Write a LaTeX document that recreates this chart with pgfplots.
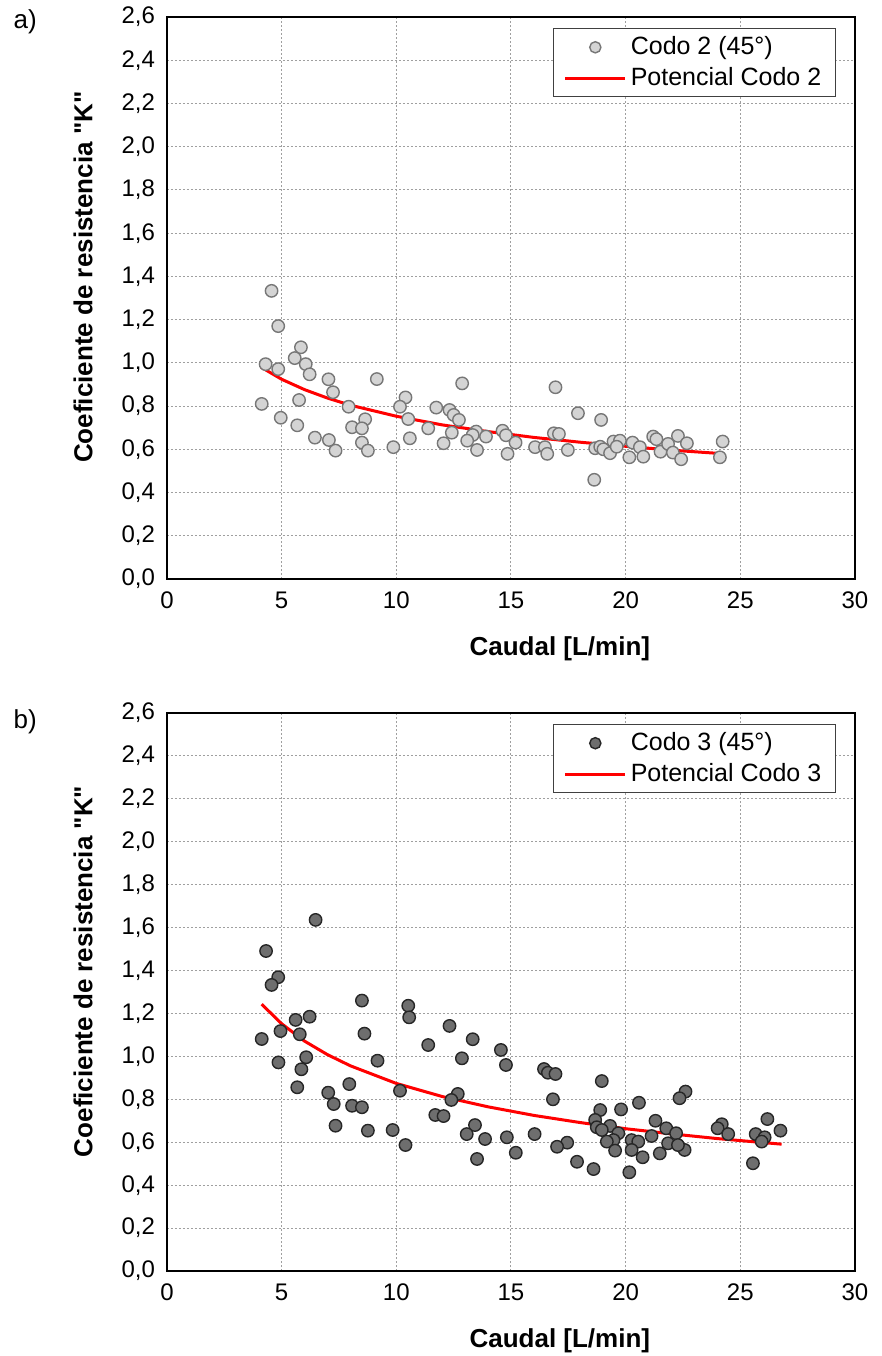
\documentclass[border=0pt]{standalone}
\usepackage{fontspec}
\setmainfont{Liberation Sans}[Ligatures=TeXOff]
\usepackage{pgfplots}
\pgfplotsset{compat=1.18}
\definecolor{fillA}{HTML}{D4D4D4}
\definecolor{edgeA}{HTML}{777777}
\definecolor{fillB}{HTML}{6E6E6E}
\definecolor{edgeB}{HTML}{262626}
\pgfplotsset{
  scatleg/.style={legend image code/.code={\draw[mark repeat=2,mark phase=2,##1,mark size=2.8pt] plot coordinates {(0pt,0pt) (15pt,0pt) (30pt,0pt)};}},
  lineleg/.style={legend image code/.code={\draw[##1] (0pt,0pt) -- (30pt,0pt);}},
  kplot/.style={
    scale only axis, width=344pt, clip=false,
    xmin=0, xmax=30, ymin=0, ymax=2.6,
    xtick={0,5,10,15,20,25,30},
    ytick={0,0.2,0.4,0.6,0.8,1.0,1.2,1.4,1.6,1.8,2.0,2.2,2.4,2.6},
    grid=major,
    major grid style={gray!75, dash pattern=on 1pt off 1pt, line width=0.5pt},
    axis line style={black, line width=1.1pt},
    major tick length=0pt,
    /pgf/number format/assume math mode=true,
    ticklabel style={font=\fontsize{12}{14}\selectfont},
    yticklabel style={/pgf/number format/fixed, /pgf/number format/fixed zerofill,
      /pgf/number format/precision=1, /pgf/number format/use comma, xshift=-2.5pt},
    xticklabel style={yshift=-3pt},
    xlabel={Caudal [L/min]},
    ylabel={Coeficiente de resistencia "K"},
    label style={font=\bfseries\fontsize{13}{15}\selectfont},
    xlabel style={at={(axis description cs:0.571,-0.125)}, anchor=center},
    ylabel style={at={(axis description cs:-0.122,0.537)}, anchor=center},
    legend style={at={(axis description cs:0.972,0.980)}, anchor=north east,
      draw=black!75, line width=0.5pt, fill=white,
      font=\fontsize{12.5}{15}\selectfont, row sep=1pt,
      inner xsep=5pt, inner ysep=2pt},
    legend cell align=left,
  }
}
\begin{document}
\begin{tikzpicture}
\useasboundingbox (-83.5pt,-388.5pt) rectangle (357.5pt,289.5pt);
\begin{axis}[kplot, height=281pt, at={(0pt,0pt)}, anchor=south west]
\addplot[only marks, mark=*, mark size=3.1pt,
  mark options={fill=fillA, draw=edgeA, line width=0.7pt}, scatleg]
table {
4.56 1.333
4.85 1.170
5.84 1.072
5.57 1.022
6.05 0.994
4.30 0.994
4.85 0.971
6.22 0.947
7.04 0.924
9.15 0.925
7.24 0.864
4.13 0.810
5.76 0.828
7.92 0.797
10.40 0.840
10.16 0.797
4.96 0.746
8.64 0.739
10.52 0.740
5.68 0.711
8.07 0.702
8.50 0.697
11.74 0.793
12.32 0.782
12.50 0.759
12.73 0.736
12.87 0.905
11.39 0.697
12.42 0.677
13.48 0.682
13.33 0.666
13.91 0.659
14.63 0.686
14.78 0.665
6.45 0.654
7.06 0.643
7.35 0.594
8.50 0.631
8.76 0.594
9.87 0.610
10.59 0.651
12.06 0.628
13.09 0.640
13.52 0.597
14.85 0.579
15.20 0.631
16.05 0.610
16.48 0.610
16.58 0.579
16.94 0.887
16.87 0.674
17.09 0.671
17.48 0.597
17.92 0.767
18.93 0.736
18.63 0.459
18.67 0.605
18.89 0.612
19.03 0.600
19.32 0.582
19.47 0.636
19.75 0.640
19.61 0.612
20.16 0.563
20.30 0.631
20.62 0.610
20.77 0.566
21.20 0.659
21.34 0.647
21.52 0.589
21.85 0.625
22.06 0.585
22.28 0.662
22.67 0.628
22.42 0.554
24.23 0.636
24.11 0.563
};
\addlegendentry{Codo 2 (45°)}
\addplot[red, line width=1.5pt, lineleg]
table {
4.10 0.980
5 0.924
6 0.876
7 0.837
8 0.804
10 0.753
12 0.713
14 0.682
16 0.655
18 0.633
20 0.614
22 0.596
24.20 0.580
};
\addlegendentry{Potencial Codo 2}
\node[font=\fontsize{13}{15}\selectfont] at (axis description cs:-0.206,0.991) {a)};
\end{axis}
\begin{axis}[kplot, height=279pt, at={(0pt,-346pt)}, anchor=south west]
\addplot[only marks, mark=*, mark size=3.1pt,
  mark options={fill=fillB, draw=edgeB, line width=0.7pt}, scatleg]
table {
6.48 1.636
4.32 1.491
4.85 1.369
4.56 1.333
8.50 1.260
10.52 1.236
10.56 1.182
5.61 1.170
6.22 1.185
12.32 1.142
4.95 1.118
5.79 1.103
8.61 1.106
4.13 1.081
11.39 1.053
13.33 1.080
4.86 0.972
6.07 0.996
5.86 0.940
9.18 0.980
12.86 0.991
14.56 1.030
14.78 0.960
5.68 0.856
7.03 0.831
7.95 0.871
10.16 0.840
12.68 0.825
12.40 0.797
7.27 0.778
8.07 0.770
8.50 0.763
11.70 0.727
12.06 0.722
7.35 0.677
8.76 0.654
9.84 0.657
10.40 0.587
13.43 0.680
13.07 0.638
13.87 0.615
13.52 0.522
14.82 0.623
15.21 0.551
16.44 0.941
16.61 0.924
16.94 0.918
18.96 0.885
16.83 0.800
22.61 0.836
22.35 0.805
20.58 0.784
19.80 0.753
18.89 0.750
21.30 0.700
18.67 0.704
19.32 0.676
18.74 0.670
18.96 0.657
19.68 0.642
21.77 0.665
22.20 0.642
21.13 0.629
16.03 0.638
19.47 0.610
19.18 0.603
20.26 0.610
20.55 0.603
21.85 0.595
17.45 0.598
17.01 0.579
19.54 0.561
20.26 0.564
21.49 0.548
22.57 0.564
22.28 0.587
20.74 0.530
17.88 0.509
18.60 0.475
20.16 0.460
24.19 0.684
24.01 0.665
24.47 0.638
26.18 0.708
26.75 0.654
25.67 0.638
26.06 0.623
25.93 0.603
25.55 0.502
};
\addlegendentry{Codo 3 (45°)}
\addplot[red, line width=1.5pt, lineleg]
table {
4.13 1.243
5 1.152
6 1.071
7 1.008
8 0.956
10 0.874
12 0.813
14 0.765
16 0.725
18 0.692
20 0.663
22 0.639
24 0.617
26.80 0.591
};
\addlegendentry{Potencial Codo 3}
\node[font=\fontsize{13}{15}\selectfont] at (axis description cs:-0.206,0.984) {b)};
\end{axis}
\end{tikzpicture}
\end{document}
